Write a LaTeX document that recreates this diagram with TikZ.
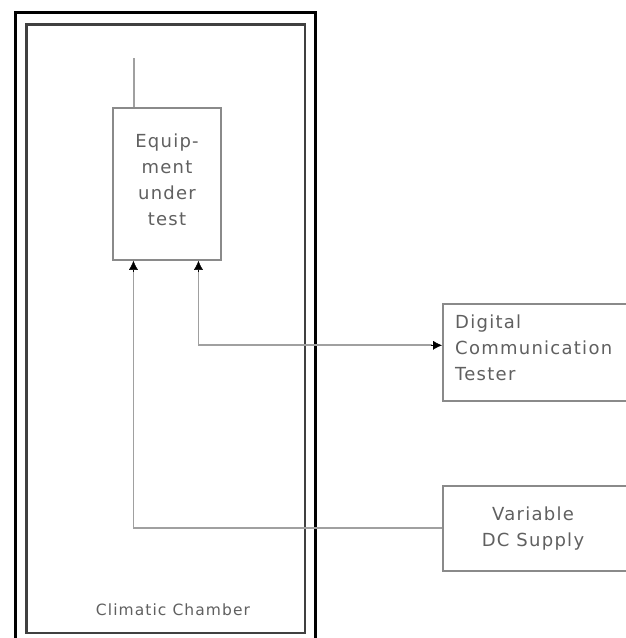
\documentclass[tikz,border=0pt]{standalone}
\usepackage{fontspec}
\setmainfont{DejaVu Sans}[LetterSpace=7]
\usetikzlibrary{arrows.meta,calc}
\definecolor{linegray}{HTML}{A0A0A0}
\definecolor{boxgray}{HTML}{8A8A8A}
\definecolor{txtgray}{HTML}{606060}
\begin{document}
\begin{tikzpicture}[x=1pt,y=-1pt,
  unit/.style={draw=boxgray,line width=1.6pt,rectangle,inner sep=0pt},
  conn/.style={draw=linegray,line width=1.8pt},
  tip/.style={-{Latex[length=9pt,width=9pt]},color=black},
  lbl/.style={text=txtgray,font=\fontsize{18}{26}\selectfont,align=center,inner sep=0pt}]
\useasboundingbox (0,0) rectangle (625,638);
\fill[white] (0,0) rectangle (625,638);
% climatic chamber
\draw[line width=3pt,black] (15.5,12) rectangle (315.5,650);
\draw[line width=2.5pt,black!75] (26.5,24.5) rectangle (305,633);
\node[lbl,font=\fontsize{15.5}{18}\selectfont] (cc) at (173,610) {Climatic Chamber};
% equipment under test
\node[unit,minimum width=108pt,minimum height=152pt] (eut) at (167,184) {};
\node[lbl] (euttext) at (167,180) {Equip-\\ment\\under\\test};
\coordinate (ant) at (134,58);
\draw[conn] (ant) -- (ant |- eut.north);
% digital communication tester
\node[unit,minimum width=200pt,minimum height=97pt,anchor=north west] (dct) at (442,303) {};
\node[lbl,align=left,anchor=west] (dcttext) at (455,348) {Digital\\Communication\\Tester};
% variable dc supply
\node[unit,minimum width=200pt,minimum height=85pt,anchor=north west] (dcs) at (442,485) {};
\node[lbl] (dcstext) at (533,529) {Variable\\DC Supply};
% connectors
\coordinate (a1) at ($(eut.south west)!0.194!(eut.south east)$);
\coordinate (a2) at ($(eut.south west)!0.787!(eut.south east)$);
\draw[conn] (dcs.west) -| ($(a1)+(0,10)$);
\draw[tip] ($(a1)+(0,11)$) -- (a1);
\draw[conn] ($(a2)+(0,10)$) |- ($(dct.west)+(-10,-7)$);
\draw[tip] ($(a2)+(0,11)$) -- (a2);
\draw[tip] ($(dct.west)+(-11,-7)$) -- ($(dct.west)+(0,-7)$);
\end{tikzpicture}
\end{document}
